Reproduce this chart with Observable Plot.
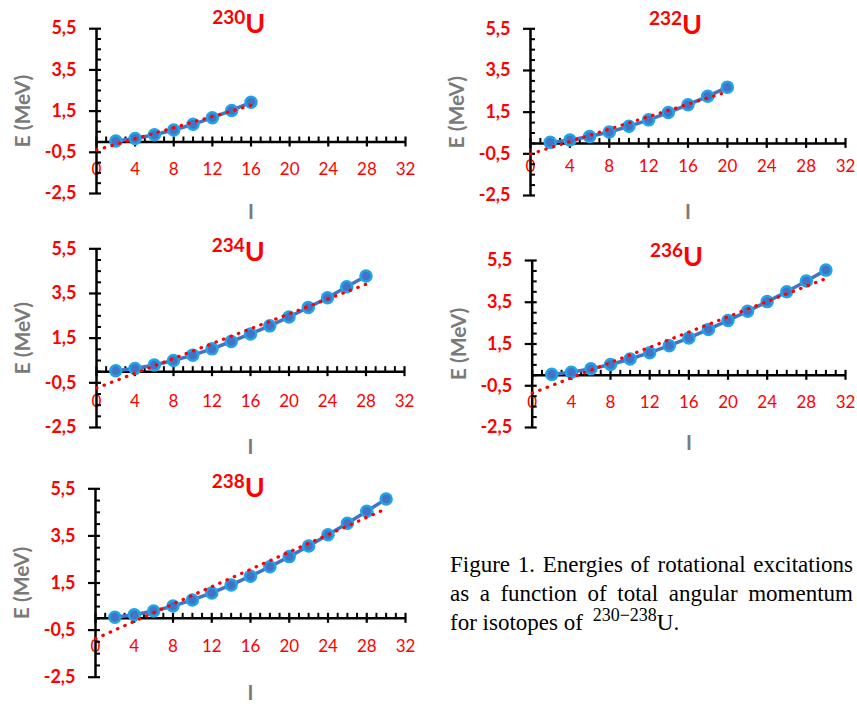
<!DOCTYPE html>
<html>
<head>
<meta charset="utf-8">
<script src="https://cdn.jsdelivr.net/npm/d3@7"></script>
<script src="https://cdn.jsdelivr.net/npm/@observablehq/plot@0.6"></script>
<style>
  body { margin: 0; background: #fff; }
  #root { position: relative; width: 857px; height: 704px; overflow: hidden; background: #fff; }
  .panel { position: absolute; }
  #caption { position: absolute; left: 450px; top: 550px; width: 403px; font-family: "Liberation Serif", "DejaVu Serif", serif; font-size: 23px; line-height: 29px; color: #000; }
  #caption .j { white-space: nowrap; display: flex; justify-content: space-between; }
  #caption .sup { font-size: 18px; position: relative; top: -9px; margin-left: 4px; }
</style>
</head>
<body>
<div id="root"></div>
<script>
// ---------- data ----------
const isotopes = ["230", "232", "234", "236", "238"];
const spin230 = [2, 4, 6, 8, 10, 12, 14, 16];
const energy230 = [0.05, 0.17, 0.35, 0.58, 0.86, 1.18, 1.53, 1.93];
const spin232 = [2, 4, 6, 8, 10, 12, 14, 16, 18, 20];
const energy232 = [0.05, 0.16, 0.33, 0.55, 0.82, 1.13, 1.48, 1.86, 2.26, 2.70];
const spin234 = [2, 4, 6, 8, 10, 12, 14, 16, 18, 20, 22, 24, 26, 28];
const energy234 = [0.04, 0.14, 0.30, 0.50, 0.74, 1.02, 1.35, 1.69, 2.05, 2.45, 2.87, 3.31, 3.80, 4.28];
const spin236 = [2, 4, 6, 8, 10, 12, 14, 16, 18, 20, 22, 24, 26, 28, 30];
const energy236 = [0.045, 0.15, 0.31, 0.52, 0.78, 1.085, 1.42, 1.79, 2.20, 2.63, 3.07, 3.53, 4.00, 4.52, 5.04];
const spin238 = [2, 4, 6, 8, 10, 12, 14, 16, 18, 20, 22, 24, 26, 28, 30];
const energy238 = [0.045, 0.15, 0.31, 0.52, 0.78, 1.08, 1.42, 1.79, 2.19, 2.62, 3.07, 3.55, 4.04, 4.55, 5.07];

// tick labels
const xTickLabels = [0, 4, 8, 12, 16, 20, 24, 28, 32];
const yTickLabels = [5.5, 3.5, 1.5, -0.5, -2.5];
const yTitle = "E (MeV)";
const xTitle = "I";

const spins = [spin230, spin232, spin234, spin236, spin238];
const energies = [energy230, energy232, energy234, energy236, energy238];

// ---------- layout (page pixels) ----------
const layout = [
  {left: 0,   top: 0,   w: 430, h: 230, x0: 96,    x32: 405, yTop: 28.2,  yBot: 193.0, xdy: 28, idy: 19, tdy: 4},
  {left: 430, top: 0,   w: 427, h: 230, x0: 530,   x32: 845, yTop: 28.3,  yBot: 195.0, xdy: 23, idy: 17, tdy: 5},
  {left: 0,   top: 230, w: 430, h: 230, x0: 96,    x32: 404, yTop: 248.3, yBot: 427.0, xdy: 30, idy: 20, tdy: 12},
  {left: 430, top: 230, w: 427, h: 230, x0: 531.7, x32: 845, yTop: 260.0, yBot: 427.0, xdy: 27, idy: 16, tdy: 5},
  {left: 0,   top: 460, w: 430, h: 244, x0: 95,    x32: 405, yTop: 488.3, yBot: 676.7, xdy: 28, idy: 16, tdy: 8}
];

const RED = "#ff0000";
const GREY = "#7a7a7a";
const FONT = "Lato, 'Open Sans', sans-serif";
const fmt = v => String(v).replace(".", ",");

const xMinor = d3.range(1, 32).filter(v => v % 4 !== 0);
const yMinor = d3.range(-2.5, 5.51, 0.5).map(v => +v.toFixed(1)).filter(v => !yTickLabels.includes(v));

const root = document.getElementById("root");

isotopes.forEach((iso, k) => {
  const L = layout[k];
  const data = spins[k].map((s, i) => ({I: s, E: energies[k][i]}));
  // Excel-style linear trendline (least squares), extended back to I = 0
  const mx = d3.mean(data, d => d.I), my = d3.mean(data, d => d.E);
  const slope = d3.sum(data, d => (d.I - mx) * (d.E - my)) / d3.sum(data, d => (d.I - mx) ** 2);
  const icpt = my - slope * mx;
  const iMax = d3.max(data, d => d.I);
  const trend = [0, iMax].map(x => ({I: x, E: icpt + slope * x}));

  const svg = Plot.plot({
    width: L.w,
    height: L.h,
    marginLeft: L.x0 - L.left,
    marginRight: L.left + L.w - L.x32,
    marginTop: L.yTop - L.top,
    marginBottom: L.top + L.h - L.yBot,
    x: {domain: [0, 32], axis: null},
    y: {domain: [-2.5, 5.5], axis: null},
    style: {background: "transparent", overflow: "visible", fontFamily: FONT},
    marks: [
      // tick labels (under the axes)
      Plot.text(yTickLabels, {x: 0, y: d => d, text: d => fmt(d), textAnchor: "end", dx: -20, fill: RED, fontWeight: "bold", fontSize: 18}),
      Plot.text(xTickLabels, {x: d => d, y: 0, text: d => String(d), dy: L.xdy, fill: RED, fontSize: 17}),
      // axes lines
      Plot.ruleY([0], {x1: 0, x2: 32, stroke: "#000", strokeWidth: 2.5}),
      Plot.ruleX([0], {y1: -2.5, y2: 5.5, stroke: "#000", strokeWidth: 2.5}),
      // x ticks
      Plot.ruleX(xTickLabels, {x: d => d, y1: 0, y2: 0, insetTop: -5, insetBottom: -5, stroke: "#000", strokeWidth: 2.2}),
      Plot.ruleX(xMinor, {x: d => d, y1: 0, y2: 0, insetTop: -5, insetBottom: 0, stroke: "#000", strokeWidth: 2}),
      // y ticks
      Plot.ruleY(yTickLabels, {y: d => d, x1: 0, x2: 0, insetLeft: -7, insetRight: -5, stroke: "#000", strokeWidth: 2.2}),
      Plot.ruleY(yMinor, {y: d => d, x1: 0, x2: 0, insetLeft: 0, insetRight: -5, stroke: "#000", strokeWidth: 2}),
      // axis titles
      Plot.text([yTitle], {x: 0, y: 1.5, text: d => d, dx: -73, rotate: -90, fill: GREY, fontWeight: "bold", fontSize: 21}),
      Plot.text([xTitle], {x: 16, y: -2.5, text: d => d, dy: L.idy, fill: GREY, fontWeight: "bold", fontSize: 20}),
      // panel title
      Plot.text([iso], {x: 15.4, y: 5.5, text: d => d, dy: L.tdy - 9, lineAnchor: "bottom", textAnchor: "end", fill: RED, fontWeight: "bold", fontSize: 19}),
      Plot.text(["U"], {x: 15.4, y: 5.5, text: d => d, dy: L.tdy, lineAnchor: "bottom", textAnchor: "start", fill: RED, fontWeight: "bold", fontSize: 27}),
      // data
      Plot.line(data, {x: "I", y: "E", stroke: "#4472c4", strokeWidth: 3.5}),
      Plot.dot(data, {x: "I", y: "E", r: 5.5, fill: "#4472c4", stroke: "#1fa4e8", strokeWidth: 2.5}),
      Plot.line(trend, {x: "I", y: "E", stroke: RED, strokeWidth: 3.2, strokeDasharray: "0.5 7.5", strokeLinecap: "round"})
    ]
  });
  svg.classList.add("panel");
  svg.style.left = L.left + "px";
  svg.style.top = L.top + "px";
  svg.style.position = "absolute";
  root.appendChild(svg);
});

// caption
const cap = document.createElement("div");
cap.id = "caption";
cap.innerHTML =
  '<div class="j"><span>Figure</span><span>1.</span><span>Energies</span><span>of</span><span>rotational</span><span>excitations</span></div>' +
  '<div class="j"><span>as</span><span>a</span><span>function</span><span>of</span><span>total</span><span>angular</span><span>momentum</span></div>' +
  '<div>for isotopes of <span class="sup">230\u2212238</span>U.</div>';
root.appendChild(cap);
</script>
</body>
</html>
